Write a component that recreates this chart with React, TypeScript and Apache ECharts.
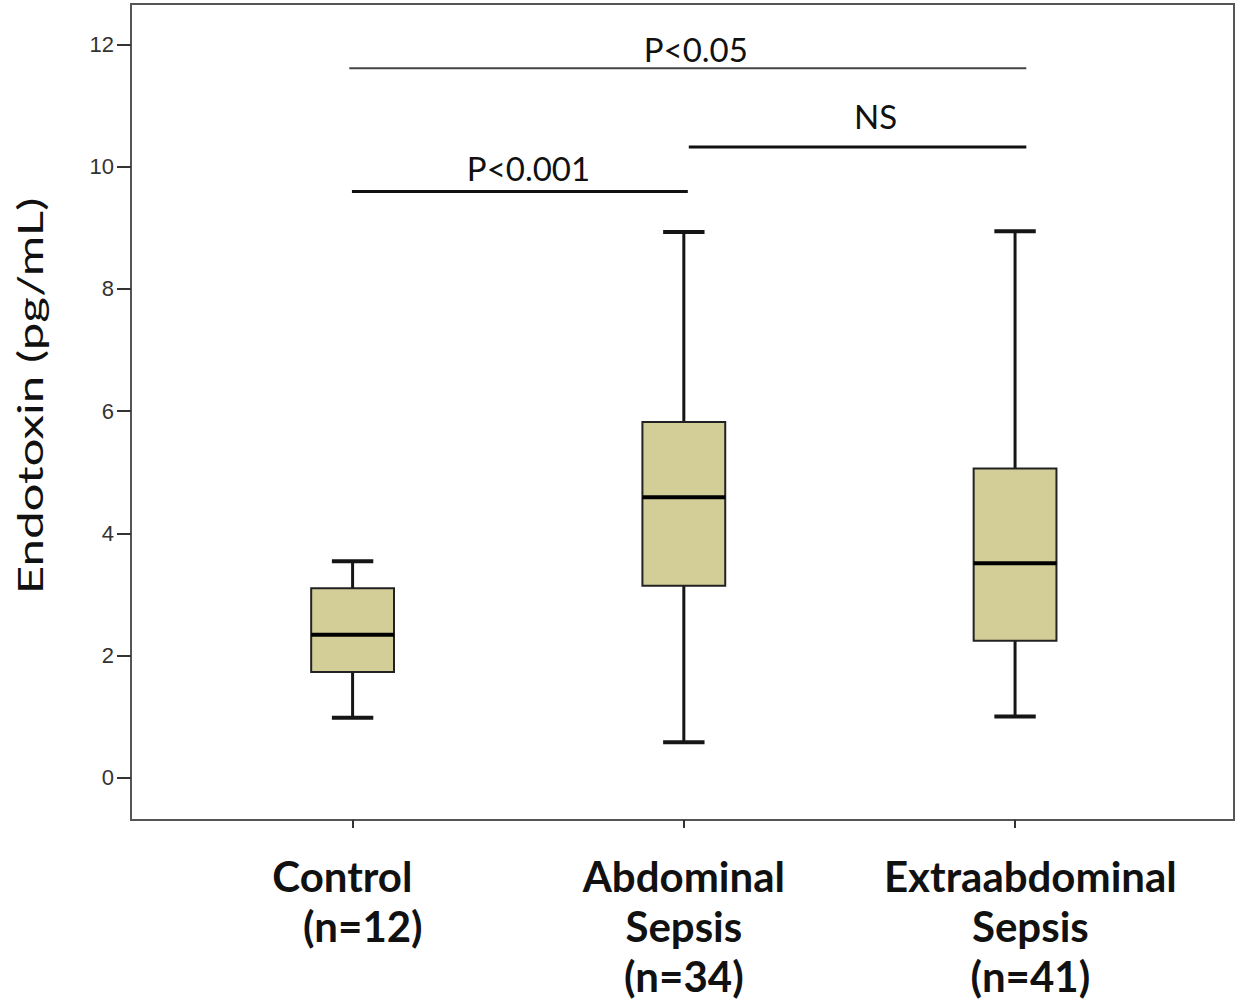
import React, { useEffect, useRef } from "react";
import * as echarts from "echarts";

// ---- data ----
const categories = [
  "Control\u00A0\u00A0\n\u00A0\u00A0(n=12)",
  "Abdominal\nSepsis\n(n=34)",
  "\u00A0\u00A0\u00A0Extraabdominal\n\u00A0\u00A0\u00A0Sepsis\n\u00A0\u00A0\u00A0(n=41)",
];
const positions = [0, 1, 2];
const whiskerLow = [0.98, 0.58, 1.0];
const q1 = [1.73, 3.14, 2.24];
const median = [2.34, 4.59, 3.51];
const q3 = [3.1, 5.82, 5.06];
const whiskerHigh = [3.54, 8.93, 8.94];

const yTicks = [0, 2, 4, 6, 8, 10, 12];

const sigLabels = ["P<0.05", "NS", "P<0.001"];
const sigFrom = [-0.01, 1.015, -0.002];
const sigTo = [2.034, 2.034, 1.012];
const sigLevel = [11.61, 10.32, 9.59];
const sigLabelX = [1.036, 1.579, 0.531];
const sigLabelY = [11.93, 10.82, 9.975];

const yTitle = "Endotoxin (pg/mL)";

export default function App() {
  const ref = useRef<HTMLDivElement>(null);
  useEffect(() => {
    if (!ref.current) return;
    const chart = echarts.init(ref.current, null, { renderer: "svg" });
    const boxData = positions.map((p, i) => [
      p,
      whiskerLow[i],
      q1[i],
      median[i],
      q3[i],
      whiskerHigh[i],
    ]);
    const sigLineData = sigLevel.map((y, i) => [sigFrom[i], sigTo[i], y]);
    const sigTextData = sigLabelX.map((x, i) => [x, sigLabelY[i]]);

    chart.setOption({
      animation: false,
      backgroundColor: "#ffffff",
      grid: {
        left: 131,
        top: 4,
        width: 1103,
        height: 816,
        show: true,
        borderColor: "#555555",
        borderWidth: 2,
        backgroundColor: "transparent",
      },
      xAxis: {
        type: "value",
        min: -0.669,
        max: 2.661,
        splitLine: { show: false },
        axisLine: { show: false, onZero: false },
        axisTick: {
          show: true,
          customValues: positions,
          length: 8,
          lineStyle: { color: "#333", width: 2 },
        },
        axisLabel: {
          customValues: positions,
          formatter: (v: number) => categories[Math.round(v)] ?? "",
          margin: 31,
          fontFamily: "Lato",
          fontWeight: "bold",
          fontSize: 42,
          lineHeight: 50,
          color: "#111",
        },
      },
      yAxis: {
        type: "value",
        min: -0.692,
        max: 12.66,
        splitLine: { show: false },
        axisLine: { show: false, onZero: false },
        axisTick: {
          show: true,
          customValues: yTicks,
          length: 14,
          lineStyle: { color: "#333", width: 2 },
        },
        axisLabel: {
          customValues: yTicks,
          margin: 17,
          fontFamily: "Liberation Sans, Arial",
          fontSize: 22,
          color: "#333",
        },
      },
      graphic: [
        {
          type: "text",
          x: 30,
          y: 396,
          rotation: Math.PI / 2,
          scaleX: 1.45,
          style: {
            text: yTitle,
            font: "34px Lato",
            fill: "#111",
            textAlign: "center",
            textVerticalAlign: "middle",
          },
        },
      ],
      series: [
        {
          type: "custom",
          data: boxData,
          encode: { x: 0, y: [1, 2, 3, 4, 5] },
          clip: false,
          renderItem: (params: any, api: any) => {
            const x = api.value(0);
            const lo = api.coord([x, api.value(1)]);
            const b1 = api.coord([x, api.value(2)]);
            const md = api.coord([x, api.value(3)]);
            const b3 = api.coord([x, api.value(4)]);
            const hi = api.coord([x, api.value(5)]);
            const boxW = api.size([0.25, 0])[0];
            const capW = boxW / 2;
            const cx = lo[0];
            const stroke = "#151515";
            return {
              type: "group",
              children: [
                {
                  type: "line",
                  shape: { x1: cx, y1: hi[1], x2: cx, y2: b3[1] },
                  style: { stroke, lineWidth: 3 },
                },
                {
                  type: "line",
                  shape: { x1: cx, y1: b1[1], x2: cx, y2: lo[1] },
                  style: { stroke, lineWidth: 3 },
                },
                {
                  type: "line",
                  shape: { x1: cx - capW / 2, y1: hi[1], x2: cx + capW / 2, y2: hi[1] },
                  style: { stroke, lineWidth: 4 },
                },
                {
                  type: "line",
                  shape: { x1: cx - capW / 2, y1: lo[1], x2: cx + capW / 2, y2: lo[1] },
                  style: { stroke, lineWidth: 4 },
                },
                {
                  type: "rect",
                  shape: { x: cx - boxW / 2, y: b3[1], width: boxW, height: b1[1] - b3[1] },
                  style: { fill: "#D3CE97", stroke: "#222", lineWidth: 2 },
                },
                {
                  type: "line",
                  shape: { x1: cx - boxW / 2, y1: md[1], x2: cx + boxW / 2, y2: md[1] },
                  style: { stroke: "#000", lineWidth: 4 },
                },
              ],
            };
          },
        },
        {
          type: "custom",
          data: sigLineData,
          encode: { x: [0, 1], y: 2 },
          clip: false,
          renderItem: (params: any, api: any) => {
            const p1 = api.coord([api.value(0), api.value(2)]);
            const p2 = api.coord([api.value(1), api.value(2)]);
            const top = params.dataIndex === 0;
            return {
              type: "line",
              shape: { x1: p1[0], y1: p1[1], x2: p2[0], y2: p2[1] },
              style: { stroke: top ? "#444" : "#111", lineWidth: top ? 2 : 3 },
            };
          },
        },
        {
          type: "custom",
          data: sigTextData,
          encode: { x: 0, y: 1 },
          clip: false,
          renderItem: (params: any, api: any) => {
            const p = api.coord([api.value(0), api.value(1)]);
            return {
              type: "text",
              x: p[0],
              y: p[1],
              style: {
                text: sigLabels[params.dataIndex],
                font: "33px Lato",
                fill: "#111",
                textAlign: "center",
                textVerticalAlign: "middle",
              },
            };
          },
        },
      ],
    });
    return () => chart.dispose();
  }, []);
  return (
    <div
      ref={ref}
      style={{ position: "absolute", left: 0, top: 0, width: 1239, height: 1001 }}
    />
  );
}
